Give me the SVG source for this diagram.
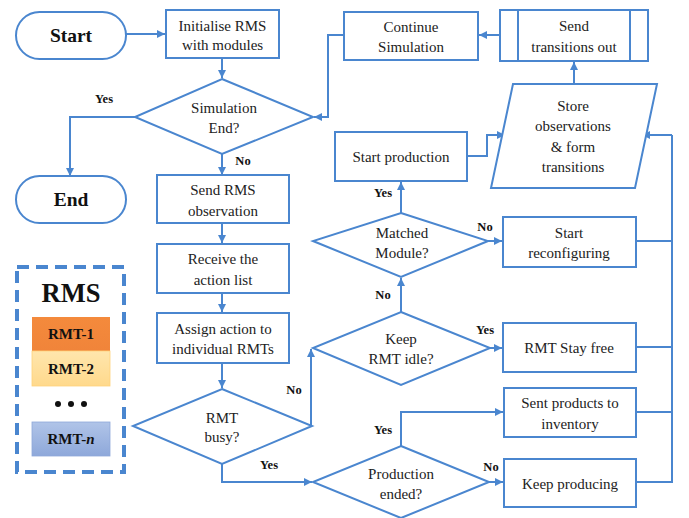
<svg xmlns="http://www.w3.org/2000/svg" width="689" height="518" viewBox="0 0 689 518" font-family="'Liberation Serif', 'Times New Roman', Times, serif">
<defs>
<marker id="ah" viewBox="0 0 10 10" refX="10" refY="5" markerWidth="8" markerHeight="8" markerUnits="userSpaceOnUse" orient="auto">
<path d="M0,0 L10,5 L0,10 z" fill="#4a86cf"/>
</marker>
<linearGradient id="g1" x1="0" y1="0" x2="0" y2="1"><stop offset="0" stop-color="#f48a3c"/><stop offset="1" stop-color="#f0843a"/></linearGradient>
<linearGradient id="g2" x1="0" y1="0" x2="0" y2="1"><stop offset="0" stop-color="#ffe6ad"/><stop offset="1" stop-color="#ffd98c"/></linearGradient>
<linearGradient id="g3" x1="0" y1="0" x2="0" y2="1"><stop offset="0" stop-color="#b0c4e8"/><stop offset="1" stop-color="#8ea8da"/></linearGradient>
</defs>
<style>
.s{fill:#fff;stroke:#4a86cf;stroke-width:2}
.t{font-size:15px;fill:#222;text-anchor:middle}
.b{font-weight:bold;fill:#111;text-anchor:middle}
.l{font-weight:bold;font-size:12.5px;fill:#111;text-anchor:middle}
.c{fill:none;stroke:#4a86cf;stroke-width:2}
.a{marker-end:url(#ah)}
</style>
<rect width="689" height="518" fill="#fff"/>
<g id="connectors">
<path class="c a" d="M126,34 H165"/>
<path class="c a" d="M222,58 V78"/>
<path class="c a" d="M135,117 H70 V176"/>
<path class="c a" d="M222,154 V175"/>
<path class="c a" d="M222,223 V243"/>
<path class="c a" d="M222,293 V312"/>
<path class="c a" d="M222,363 V388"/>
<path class="c a" d="M312,426 H311 V349"/>
<path class="c a" d="M222,464 V482 H312"/>
<path class="c a" d="M401,312 V278"/>
<path class="c a" d="M401,213 V182"/>
<path class="c a" d="M467,156 H487 V135 H505"/>
<path class="c a" d="M574,84 V62"/>
<path class="c a" d="M500,35 H479"/>
<path class="c a" d="M344,35 H328 V117 H314"/>
<path class="c a" d="M488,241 H502"/>
<path class="c a" d="M490,348 H502"/>
<path class="c a" d="M401,446 V412 H503"/>
<path class="c a" d="M489,482 H503"/>
<path class="c" d="M636,241 H672 M636,347 H672 M636,412 H672 M636,482 H672 V135"/>
<path class="c a" d="M672,135 H642"/>
</g>
<g id="start"><rect class="s" x="16" y="12" width="110" height="47" rx="23.5"/><text class="b" x="71" y="42" font-size="19.5">Start</text></g>
<g id="end"><rect class="s" x="16" y="176" width="110" height="47" rx="23.5"/><text class="b" x="71" y="206" font-size="19.5">End</text></g>
<g id="init"><rect class="s" x="166" y="10" width="113" height="48"/><text class="t" x="222.5" y="31">Initialise RMS</text><text class="t" x="222.5" y="50">with modules</text></g>
<g id="simend"><polygon class="s" points="222,79 313,117 222,154 135,117"/><text class="t" x="224" y="113">Simulation</text><text class="t" x="224" y="133">End?</text></g>
<g id="sendobs"><rect class="s" x="157" y="175" width="132" height="48"/><text class="t" x="223" y="195">Send RMS</text><text class="t" x="223" y="216">observation</text></g>
<g id="receive"><rect class="s" x="157" y="244" width="132" height="49"/><text class="t" x="223" y="264">Receive the</text><text class="t" x="223" y="285">action list</text></g>
<g id="assign"><rect class="s" x="157" y="313" width="132" height="50"/><text class="t" x="223" y="334">Assign action to</text><text class="t" x="223" y="354">individual RMTs</text></g>
<g id="busy"><polygon class="s" points="222,389 312,426 222,464 133,426"/><text class="t" x="222" y="423">RMT</text><text class="t" x="222" y="442">busy?</text></g>
<g id="idle"><polygon class="s" points="401,312 490,348 401,385 313,348"/><text class="t" x="401" y="344">Keep</text><text class="t" x="401" y="364">RMT idle?</text></g>
<g id="matched"><polygon class="s" points="401,213 488,241 401,277 313,241"/><text class="t" x="402" y="238">Matched</text><text class="t" x="402" y="258">Module?</text></g>
<g id="ended"><polygon class="s" points="401,446 489,482 401,518 313,482"/><text class="t" x="401" y="479">Production</text><text class="t" x="401" y="499">ended?</text></g>
<g id="startprod"><rect class="s" x="335" y="132" width="132" height="49"/><text class="t" x="401" y="162">Start production</text></g>
<g id="store"><polygon class="s" points="513,84 657,84 635,188 491,188"/><text class="t" x="573" y="111">Store</text><text class="t" x="573" y="131">observations</text><text class="t" x="573" y="152">&amp; form</text><text class="t" x="573" y="172">transitions</text></g>
<g id="sendtrans"><rect class="s" x="500" y="10" width="148" height="51"/><path class="c" d="M518,10 V61 M630,10 V61"/><text class="t" x="574" y="31">Send</text><text class="t" x="574" y="52">transitions out</text></g>
<g id="continue"><rect class="s" x="344" y="12" width="134" height="48"/><text class="t" x="411" y="32">Continue</text><text class="t" x="411" y="52">Simulation</text></g>
<g id="reconfig"><rect class="s" x="503" y="217" width="133" height="50"/><text class="t" x="569" y="238">Start</text><text class="t" x="569" y="258">reconfiguring</text></g>
<g id="stayfree"><rect class="s" x="503" y="323" width="133" height="49"/><text class="t" x="569" y="353">RMT Stay free</text></g>
<g id="inventory"><rect class="s" x="504" y="388" width="132" height="49"/><text class="t" x="570" y="408">Sent products to</text><text class="t" x="570" y="429">inventory</text></g>
<g id="keepprod"><rect class="s" x="504" y="459" width="132" height="48"/><text class="t" x="570" y="489">Keep producing</text></g>
<g id="labels">
<text class="l" x="104" y="103">Yes</text>
<text class="l" x="243" y="165">No</text>
<text class="l" x="383" y="197">Yes</text>
<text class="l" x="485" y="231">No</text>
<text class="l" x="383" y="299">No</text>
<text class="l" x="485" y="334">Yes</text>
<text class="l" x="294" y="394">No</text>
<text class="l" x="269" y="469">Yes</text>
<text class="l" x="383" y="434">Yes</text>
<text class="l" x="491" y="471">No</text>
</g>
<g id="legend">
<rect x="17" y="267" width="107" height="205" fill="none" stroke="#4a86cf" stroke-width="4" stroke-dasharray="12,7"/>
<text class="b" x="71" y="302" font-size="26.5">RMS</text>
<rect x="32" y="317" width="78" height="34" fill="url(#g1)"/>
<text class="b" x="71" y="339" font-size="15">RMT-1</text>
<rect x="32" y="351" width="78" height="35" fill="url(#g2)" stroke="#ffd27a" stroke-width="0.8"/>
<text class="b" x="71" y="374" font-size="15">RMT-2</text>
<circle cx="58" cy="404" r="3" fill="#111"/><circle cx="71" cy="404" r="3" fill="#111"/><circle cx="84" cy="404" r="3" fill="#111"/>
<rect x="32" y="422" width="78" height="34" fill="url(#g3)" stroke="#8ea8da" stroke-width="0.8"/>
<text class="b" x="71" y="444" font-size="15">RMT-<tspan font-style="italic">n</tspan></text>
</g>
</svg>
